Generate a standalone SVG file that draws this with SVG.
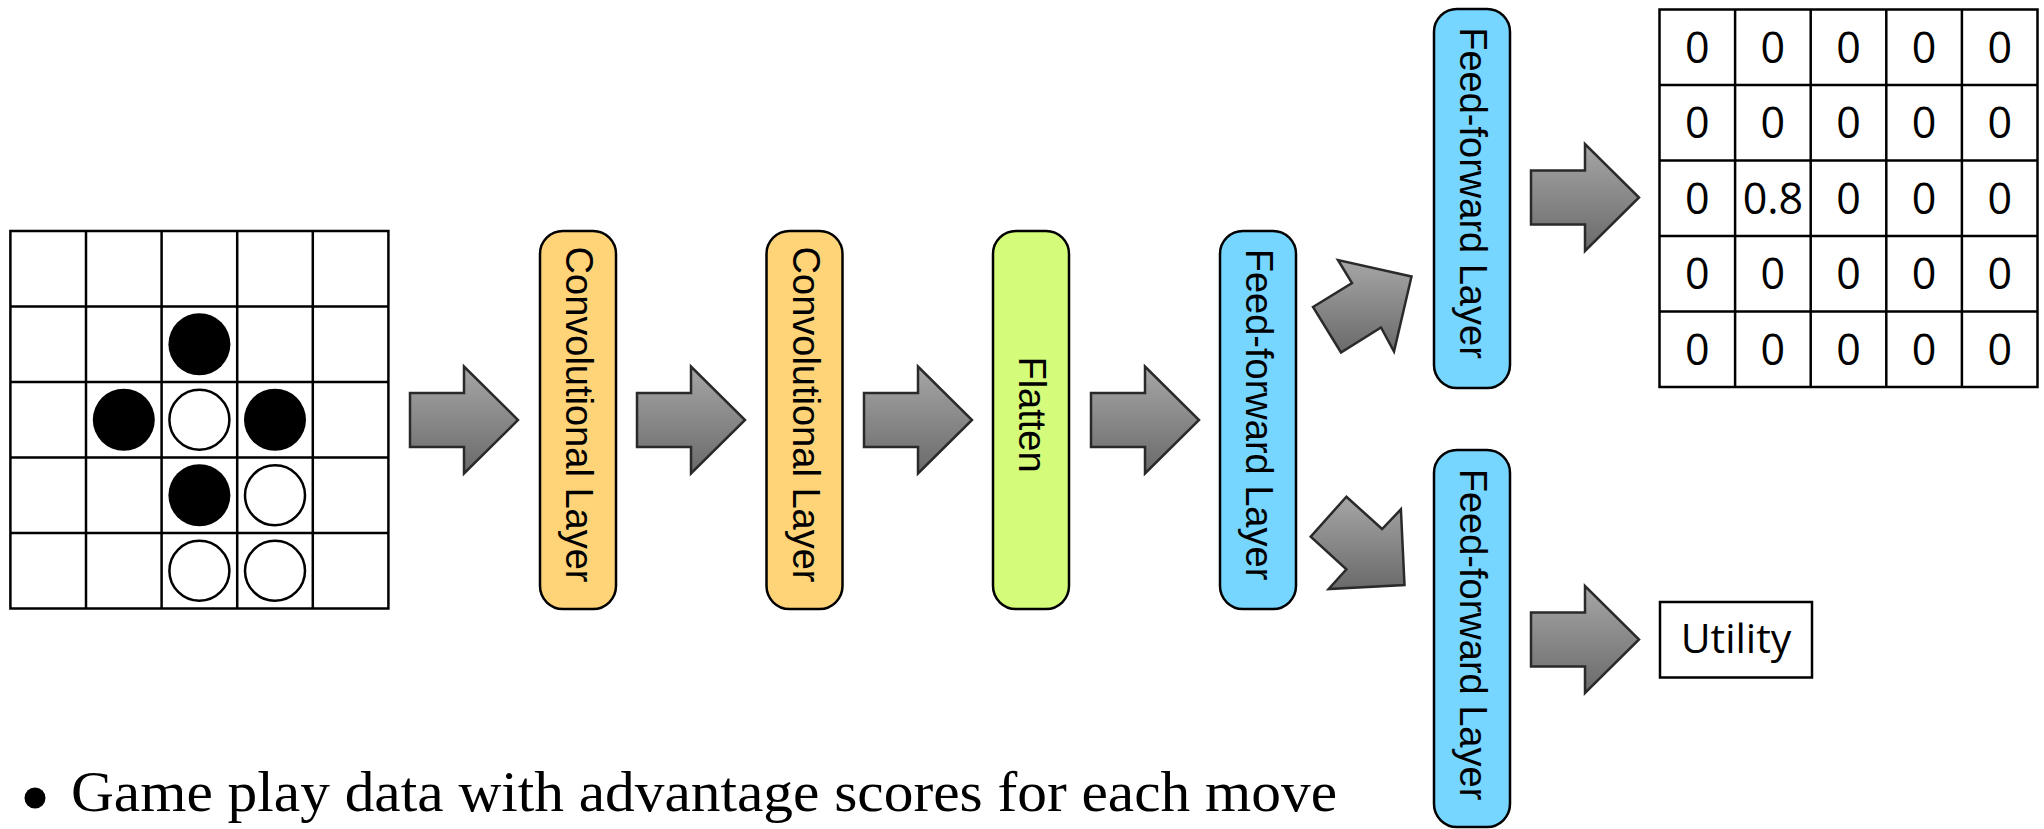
<svg xmlns="http://www.w3.org/2000/svg" width="2044" height="829" viewBox="0 0 2044 829">
<defs>
<linearGradient id="ag" x1="0" y1="0" x2="0" y2="1">
<stop offset="0" stop-color="#a6a6a6"/>
<stop offset="1" stop-color="#6a6a6a"/>
</linearGradient>
</defs>
<style>
.grid{fill:none;stroke:#000;stroke-width:2.5}
.cell{fill:#fff;stroke:#000;stroke-width:2.5}
.bs{fill:#000}
.ws{fill:#fff;stroke:#000;stroke-width:2.5}
.arr{fill:url(#ag);stroke:#2a2a2a;stroke-width:2.5;stroke-linejoin:miter}
.box{stroke:#000;stroke-width:2.5}
.conv{fill:#FFD479}
.flat{fill:#D4FB79}
.ff{fill:#76D6FF}
.lbl{font-family:"Liberation Sans",Arial,sans-serif;font-size:38px;fill:#000;text-anchor:middle}
.num{font-family:"Open Sans","Liberation Sans",sans-serif;font-size:43px;fill:#000;text-anchor:middle}
.cap{font-family:"Liberation Serif","Times New Roman",serif;font-size:57px;fill:#000}
</style>
<rect width="2044" height="829" fill="#fff"/>

<g id="board">
<rect class="grid" x="10.4" y="231" width="378" height="377.5"/>
<path class="grid" d="M86,231V608.5M161.6,231V608.5M237.2,231V608.5M312.8,231V608.5M10.4,306.5H388.4M10.4,382H388.4M10.4,457.5H388.4M10.4,533H388.4"/>
<circle class="bs" cx="199.4" cy="344.25" r="31"/>
<circle class="bs" cx="123.8" cy="419.75" r="31"/>
<circle class="ws" cx="199.4" cy="419.75" r="30"/>
<circle class="bs" cx="275" cy="419.75" r="31"/>
<circle class="bs" cx="199.4" cy="495.25" r="31"/>
<circle class="ws" cx="275" cy="495.25" r="30"/>
<circle class="ws" cx="199.4" cy="570.75" r="30"/>
<circle class="ws" cx="275" cy="570.75" r="30"/>
</g>

<g id="conv1">
<rect class="box conv" x="540" y="231" width="76" height="378" rx="23" ry="23"/>
<text class="lbl" transform="translate(566,414.5) rotate(90)">Convolutional Layer</text>
</g>
<g id="conv2">
<rect class="box conv" x="766.5" y="231" width="76" height="378" rx="23" ry="23"/>
<text class="lbl" transform="translate(792.5,414.5) rotate(90)">Convolutional Layer</text>
</g>
<g id="flatten">
<rect class="box flat" x="993" y="231" width="76" height="378" rx="23" ry="23"/>
<text class="lbl" transform="translate(1019,414.5) rotate(90)">Flatten</text>
</g>
<g id="ff1">
<rect class="box ff" x="1220" y="231" width="76" height="378" rx="23" ry="23"/>
<text class="lbl" transform="translate(1246,414.5) rotate(90)">Feed-forward Layer</text>
</g>
<g id="ff2">
<rect class="box ff" x="1434" y="9" width="76" height="379" rx="23" ry="23"/>
<text class="lbl" transform="translate(1460,193) rotate(90)">Feed-forward Layer</text>
</g>
<g id="ff3">
<rect class="box ff" x="1434" y="450" width="76" height="377" rx="23" ry="23"/>
<text class="lbl" transform="translate(1460,634.5) rotate(90)">Feed-forward Layer</text>
</g>

<g id="output-grid">
<rect class="grid" x="1659.5" y="9.5" width="378" height="377.5"/>
<path class="grid" d="M1735.1,9.5V387M1810.7,9.5V387M1886.3,9.5V387M1961.9,9.5V387M1659.5,85H2037.5M1659.5,160.5H2037.5M1659.5,236H2037.5M1659.5,311.5H2037.5"/>
<g class="num">
<text x="1697.3" y="62.5">0</text><text x="1772.9" y="62.5">0</text><text x="1848.5" y="62.5">0</text><text x="1924.1" y="62.5">0</text><text x="1999.7" y="62.5">0</text>
<text x="1697.3" y="138">0</text><text x="1772.9" y="138">0</text><text x="1848.5" y="138">0</text><text x="1924.1" y="138">0</text><text x="1999.7" y="138">0</text>
<text x="1697.3" y="213.5">0</text><text x="1772.9" y="213.5">0.8</text><text x="1848.5" y="213.5">0</text><text x="1924.1" y="213.5">0</text><text x="1999.7" y="213.5">0</text>
<text x="1697.3" y="289">0</text><text x="1772.9" y="289">0</text><text x="1848.5" y="289">0</text><text x="1924.1" y="289">0</text><text x="1999.7" y="289">0</text>
<text x="1697.3" y="364.5">0</text><text x="1772.9" y="364.5">0</text><text x="1848.5" y="364.5">0</text><text x="1924.1" y="364.5">0</text><text x="1999.7" y="364.5">0</text>
</g>
</g>

<g id="utility">
<rect class="cell" x="1660" y="602" width="152" height="75.5"/>
<text class="num" x="1736" y="653" style="font-size:41px">Utility</text>
</g>

<g id="connectors">
<polygon class="arr" points="410,393 464,393 464,366.5 518,420 464,473.5 464,447 410,447"/>
<polygon class="arr" points="637,393 691,393 691,366.5 745,420 691,473.5 691,447 637,447"/>
<polygon class="arr" points="864,393 918,393 918,366.5 972,420 918,473.5 918,447 864,447"/>
<polygon class="arr" points="1091,393 1145,393 1145,366.5 1199,420 1145,473.5 1145,447 1091,447"/>
<polygon class="arr" points="1313,307 1352,283 1338,260 1411.5,276.5 1394,351.5 1381,327.5 1341,352.5"/>
<polygon class="arr" points="1346.4,496.7 1382.1,529 1400.9,509.3 1404.5,585 1328.6,589 1346.4,569.3 1310.7,536.7"/>
<polygon class="arr" points="1531,170.5 1585,170.5 1585,144 1639,197.5 1585,251 1585,224.5 1531,224.5"/>
<polygon class="arr" points="1531,612.5 1585,612.5 1585,586 1639,639.5 1585,693 1585,666.5 1531,666.5"/>
</g>

<g id="caption">
<circle cx="35" cy="798" r="10.5" fill="#000"/>
<text class="cap" x="71" y="811" textLength="1266" lengthAdjust="spacingAndGlyphs">Game play data with advantage scores for each move</text>
</g>
</svg>
